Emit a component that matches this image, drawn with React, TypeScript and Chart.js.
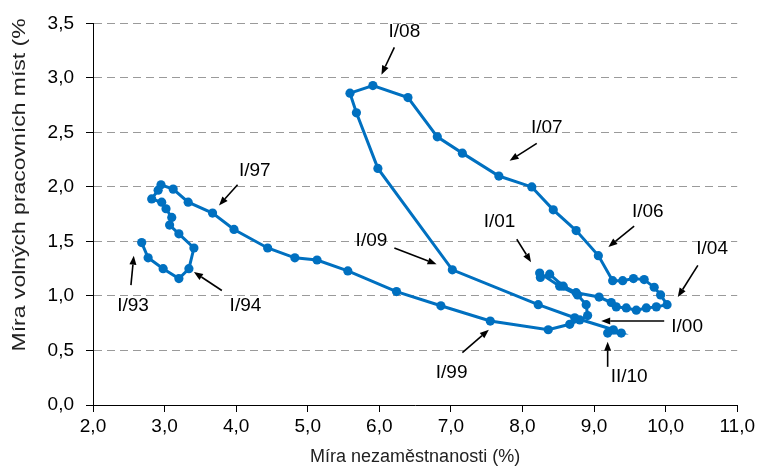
import React, { useEffect, useRef } from "react";
import { Chart, registerables } from "chart.js";

Chart.register(...registerables);

// Quarterly path I/93 ... II/10 (unemployment %, vacancy %)
const unemploymentRate: number[] = [
  2.68, 2.77, 2.98, 3.2, 3.34, 3.41, 3.2, 3.07, 3.1, 3.02, 2.96, 2.82, 2.91, 2.95, 3.12, 3.33,
  3.67, 3.97, 4.44, 4.82, 5.13, 5.56, 6.24, 6.86, 7.55, 8.36, 8.66, 8.8, 8.91, 8.89, 8.77, 8.52,
  8.24, 8.25, 8.38, 8.57, 8.75, 9.07, 9.24, 9.31, 9.45, 9.59, 9.73, 9.87, 10.02, 9.93, 9.84, 9.7,
  9.55, 9.4, 9.26, 9.06, 8.75, 8.43, 8.13, 7.67, 7.16, 6.81, 6.4, 5.91, 5.59, 5.68, 5.98, 7.02,
  8.22, 8.73, 9.27, 9.38, 9.19,
];
const vacancyRate: number[] = [
  1.49, 1.35, 1.25, 1.16, 1.25, 1.44, 1.57, 1.65, 1.72, 1.8, 1.86, 1.89, 1.97, 2.02, 1.98, 1.86,
  1.76, 1.61, 1.44, 1.35, 1.33, 1.23, 1.04, 0.91, 0.77, 0.69, 0.74, 0.78, 0.82, 0.92, 1.01, 1.09,
  1.21, 1.17, 1.2, 1.09, 1.03, 0.99, 0.94, 0.9, 0.89, 0.87, 0.89, 0.9, 0.92, 1.01, 1.08, 1.15,
  1.16, 1.14, 1.14, 1.37, 1.6, 1.79, 2.0, 2.1, 2.31, 2.46, 2.82, 2.93, 2.86, 2.68, 2.17, 1.24,
  0.92, 0.8, 0.69, 0.66, 0.66,
];

const xMin = 2;
const xMax = 11;
const xStep = 1;
const yMin = 0;
const yMax = 3.5;
const yStep = 0.5;

const xAxisTitle = "Míra nezaměstnanosti (%)";
const yAxisTitle = "Míra volných pracovních míst (%";

// Period annotations (in data units)
const periodLabels = ["I/93", "I/94", "I/97", "I/99", "I/00", "I/01", "I/04", "I/06", "I/07", "I/08", "I/09", "II/10"];
const periodLabelX = [2.56, 4.13, 4.26, 7.01, 10.3, 7.68, 10.65, 9.75, 8.34, 6.35, 5.89, 9.49];
const periodLabelY = [0.91, 0.91, 2.15, 0.3, 0.72, 1.68, 1.43, 1.77, 2.54, 3.42, 1.51, 0.26];
const arrowFromX = [2.53, 3.8, 4.02, 7.16, 9.98, 7.92, 10.45, 9.56, 8.2, 6.21, 6.21, 9.19];
const arrowFromY = [1.1, 1.05, 2.02, 0.48, 0.77, 1.52, 1.28, 1.64, 2.4, 3.28, 1.44, 0.35];
const arrowToX = [2.57, 3.41, 3.76, 7.53, 9.1, 8.12, 10.17, 9.2, 7.82, 6.03, 6.8, 9.19];
const arrowToY = [1.37, 1.22, 1.83, 0.69, 0.77, 1.31, 0.99, 1.45, 2.24, 3.03, 1.29, 0.58];

const FONT = '"Liberation Sans", Arial, sans-serif';
const BLUE = "#0070C0";

function drawArrow(ctx: CanvasRenderingContext2D, x1: number, y1: number, x2: number, y2: number) {
  const ang = Math.atan2(y2 - y1, x2 - x1);
  const head = 9;
  const half = 3.5;
  const bx = x2 - head * Math.cos(ang);
  const by = y2 - head * Math.sin(ang);
  ctx.beginPath();
  ctx.moveTo(x1, y1);
  ctx.lineTo(bx, by);
  ctx.lineWidth = 1.6;
  ctx.stroke();
  ctx.beginPath();
  ctx.moveTo(x2, y2);
  ctx.lineTo(bx + half * Math.sin(ang), by - half * Math.cos(ang));
  ctx.lineTo(bx - half * Math.sin(ang), by + half * Math.cos(ang));
  ctx.closePath();
  ctx.fill();
}

const annotationPlugin = {
  id: "periodAnnotations",
  afterDraw(chart: any) {
    const { ctx, chartArea } = chart;
    const xs = chart.scales.x;
    const ys = chart.scales.y;
    ctx.save();
    ctx.fillStyle = "#000";
    ctx.strokeStyle = "#000";
    ctx.font = `19px ${FONT}`;
    ctx.textAlign = "center";
    ctx.textBaseline = "middle";
    periodLabels.forEach((t, i) => {
      ctx.fillText(t, xs.getPixelForValue(periodLabelX[i]), ys.getPixelForValue(periodLabelY[i]));
      drawArrow(
        ctx,
        xs.getPixelForValue(arrowFromX[i]),
        ys.getPixelForValue(arrowFromY[i]),
        xs.getPixelForValue(arrowToX[i]),
        ys.getPixelForValue(arrowToY[i])
      );
    });
    // x axis title
    ctx.font = `18px ${FONT}`;
    ctx.fillStyle = "#222";
    ctx.fillText(xAxisTitle, (chartArea.left + chartArea.right) / 2, chart.height - 11);
    // y axis title (stretched along its length, clipped at the top like the original)
    ctx.save();
    ctx.translate(20, chartArea.top - 5);
    ctx.rotate(-Math.PI / 2);
    ctx.font = `19px ${FONT}`;
    const w = ctx.measureText(yAxisTitle).width;
    const target = 333;
    ctx.scale(target / w, 1);
    ctx.textAlign = "right";
    ctx.fillText(yAxisTitle, 0, 0);
    ctx.restore();
    ctx.restore();
  },
};

const fmt = (v: any) => Number(v).toFixed(1).replace(".", ",");

export default function App() {
  const ref = useRef<HTMLCanvasElement | null>(null);
  useEffect(() => {
    if (!ref.current) return;
    const points = unemploymentRate.map((u, i) => ({ x: u, y: vacancyRate[i] }));
    const chart = new Chart(ref.current, {
      type: "scatter",
      data: {
        datasets: [
          {
            data: points,
            showLine: true,
            borderColor: BLUE,
            backgroundColor: BLUE,
            borderWidth: 3,
            pointRadius: 4.6,
            pointBorderWidth: 0,
            pointBackgroundColor: BLUE,
            tension: 0,
          },
        ],
      },
      options: {
        animation: false,
        responsive: false,
        devicePixelRatio: 1,
        layout: { padding: { top: 22, right: 20, left: 0, bottom: 0 } },
        plugins: { legend: { display: false }, tooltip: { enabled: false } },
        scales: {
          x: {
            type: "linear",
            min: xMin,
            max: xMax,
            afterFit: (s: any) => {
              s.height = 63;
            },
            ticks: {
              stepSize: xStep,
              callback: fmt,
              color: "#000",
              font: { family: FONT, size: 19 },
              padding: 3,
              maxRotation: 0,
            },
            grid: { drawOnChartArea: false, drawTicks: true, tickLength: 7, tickColor: "#000" },
            border: { display: true, color: "#000", width: 1 },
          },
          y: {
            type: "linear",
            min: yMin,
            max: yMax,
            afterFit: (s: any) => {
              s.width = 93;
            },
            ticks: {
              stepSize: yStep,
              callback: fmt,
              color: "#000",
              font: { family: FONT, size: 19 },
              padding: 12,
            },
            grid: { color: "#9a9a9a", lineWidth: 1, tickLength: 7, tickColor: "#000", tickBorderDash: [] },
            border: { display: true, color: "#000", width: 1, dash: [8, 5] },
          },
        },
      },
      plugins: [annotationPlugin],
    });
    return () => chart.destroy();
  }, []);
  return (
    <div style={{ position: "fixed", left: 0, top: 0, width: 758, height: 468, background: "#fff" }}>
      <canvas ref={ref} width={758} height={468} style={{ width: 758, height: 468, display: "block" }} />
    </div>
  );
}
